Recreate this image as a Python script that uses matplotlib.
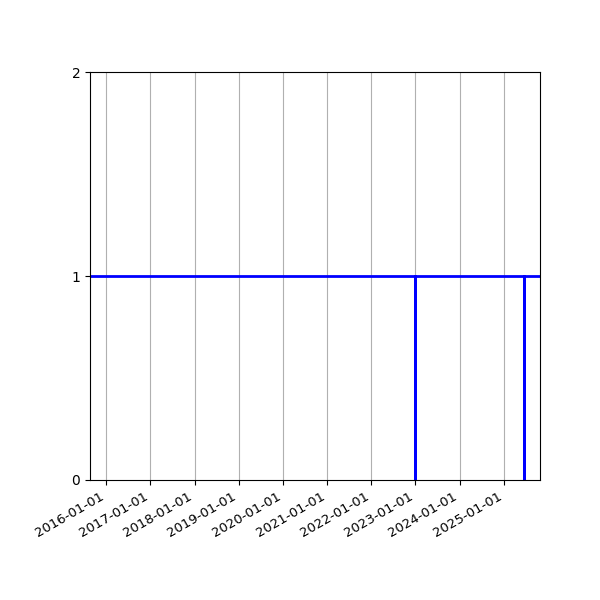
import matplotlib
matplotlib.use("Agg")
import matplotlib.pyplot as plt
import matplotlib.dates as mdates
import numpy as np
from datetime import datetime

# series: value 1 everywhere, dropping to 0 on two dates
dates = [datetime(2015, 8, 21), datetime(2023, 1, 1), datetime(2023, 1, 1), datetime(2023, 1, 1),
         datetime(2025, 6, 16), datetime(2025, 6, 16), datetime(2025, 6, 16), datetime(2025, 10, 27)]
values = [1, 1, 0, 1, 1, 0, 1, 1]
yticks = [0, 1, 2]

fig, ax = plt.subplots(figsize=(6, 6), dpi=100)
ax.plot(dates, values, color='blue', linewidth=2)
ax.set_xlim(dates[0], dates[-1])
ax.set_ylim(0, 2)
ax.set_yticks(yticks)
ax.xaxis.set_major_locator(mdates.YearLocator())
ax.xaxis.set_major_formatter(mdates.DateFormatter('%Y-%m-%d'))
ax.tick_params(axis='x', labelsize=9.5)
ax.grid(axis='x', color='#b0b0b0')
fig.autofmt_xdate()
fig.subplots_adjust(left=0.15, right=0.9, top=0.88, bottom=0.2)
plt.savefig('out.png')
